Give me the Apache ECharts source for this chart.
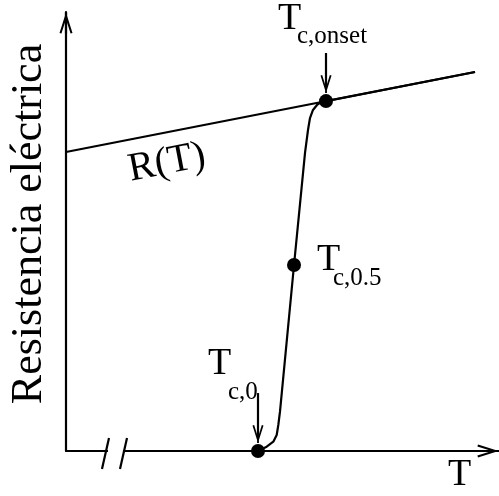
<!DOCTYPE html>
<html><head><meta charset="utf-8">
<script src="https://cdn.jsdelivr.net/npm/echarts/dist/echarts.min.js"></script>
<style>html,body{margin:0;padding:0;background:#fff}#c{width:499px;height:496px}</style>
</head><body><div id="c"></div>
<script>
// Schematic values (arbitrary units: temperature 0–100, resistance 0–100)
const normalT = [0, 94.46];                  // R(T) normal-state line
const normalR = [68.11, 86.33];
const transitionT = [13.16, 44.34, 46.35, 47.88, 48.66, 49.03, 49.42, 52.66, 55.2, 55.89, 56.35, 57.04, 57.97, 58.89, 60.05, 94.46];
const transitionR = [0, 0, 0.98, 2.12, 3.64, 5.92, 8.95, 42.37, 67.9, 73.12, 75.85, 77.68, 78.82, 79.5, 79.7, 86.33];
const markerNames = ['Tc,onset', 'Tc,0.5', 'Tc,0'];
const markerT = [60.05, 52.66, 44.34];
const markerR = [79.7, 42.37, 0];
const arrowT = [60.05, 44.34];               // annotation arrows (onset, zero)
const arrowFromR = [90.66, 13.2];
const arrowToR = [83.6, 3.87];
const breakT = [[9.93, 8.31], [14.09, 12.47]]; // axis break slashes (top, bottom T)
const breakR = [2.96, -4.1];
const gapT = [9.7, 13.4];
const axisTitleY = 'Resistencia eléctrica';
const axisTitleX = 'T';
const curveLabel = 'R(T)';

const chev = 'path://M6,0 L12,19 L10.2,19.6 L6,6.3 L1.8,19.6 L0,19 Z M5,0 L7,0 L7,19.6 L5,19.6 Z';
const serif = 'Liberation Serif, Times New Roman, serif';
const zip = (a, b) => a.map((v, i) => [v, b[i]]);

const chart = echarts.init(document.getElementById('c'), null, {renderer: 'canvas'});
const axisCommon = {
  type: 'value', min: 0, max: 100,
  splitLine: {show: false}, axisTick: {show: false}, axisLabel: {show: false},
  axisLine: {show: true, onZero: true, symbol: ['none', chev], symbolSize: [13, 22], symbolOffset: [0, -11],
    lineStyle: {color: '#000', width: 2.2}}
};
const blackLine = {color: '#000', width: 2.2};
const series = [
  {type: 'line', name: 'R(T)', data: zip(normalT, normalR), symbol: 'none', clip: false, z: 5,
   lineStyle: blackLine, silent: true,
   markLine: {silent: true, symbol: ['none', chev], symbolSize: [11, 18],
     lineStyle: {color: '#000', width: 2.2, type: 'solid'}, label: {show: false},
     data: arrowT.map((t, i) => [{coord: [t, arrowFromR[i]]}, {coord: [t, arrowToR[i]]}])}},
  {type: 'line', name: 'gap', data: gapT.map(t => [t, 0]), symbol: 'none', clip: false, z: 3,
   lineStyle: {color: '#fff', width: 5}, silent: true},
  {type: 'line', name: 'transición', data: zip(transitionT, transitionR), symbol: 'none', clip: false, z: 6,
   smooth: false, lineStyle: blackLine, silent: true},
  {type: 'scatter', name: 'Tc', data: zip(markerT, markerR).map((p, i) => ({name: markerNames[i], value: p})),
   symbolSize: 14, itemStyle: {color: '#000', opacity: 1}, clip: false, z: 8, silent: true}
];
breakT.forEach((pair, i) => series.push({type: 'line', name: 'break' + i, data: zip(pair, breakR),
  symbol: 'none', clip: false, z: 7, lineStyle: blackLine, silent: true}));

const txt = (text, x, y, size, rot, align) => ({type: 'text', x: x, y: y, rotation: rot || 0, silent: true,
  style: {text: text, font: size + 'px ' + serif, fill: '#000', align: align || 'left', verticalAlign: 'middle'}});
chart.setOption({
  animation: false,
  backgroundColor: '#fff',
  grid: {left: 66, right: 0, top: 12, bottom: 45, containLabel: false},
  xAxis: axisCommon,
  yAxis: axisCommon,
  series: series,
  graphic: [
    txt(axisTitleY, 29, 224, 44, Math.PI / 2, 'center'),
    txt(axisTitleX, 448, 475.2, 38),
    txt(curveLabel, 167, 163, 40, 0.19, 'center'),
    txt('T', 278, 19.2, 38), txt('c,onset', 297, 36.6, 25),
    txt('T', 317, 260.2, 38), txt('c,0.5', 333, 278.6, 25),
    txt('T', 208, 364.2, 38), txt('c,0', 228, 392.6, 25)
  ]
});
</script></body></html>
